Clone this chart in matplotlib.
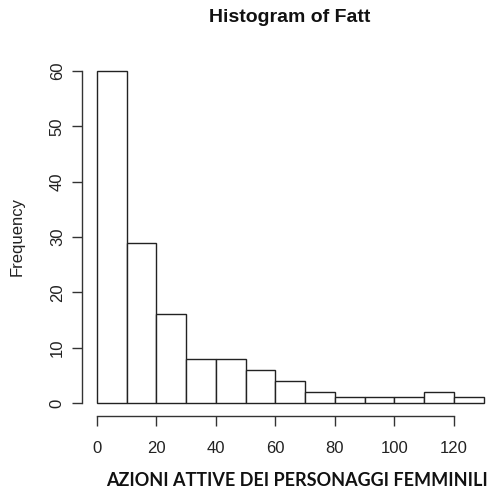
import matplotlib
matplotlib.use("Agg")
from matplotlib import pyplot as plt

# classi di Fatt (larghezza 10) e relative frequenze
bin_edges = [0, 10, 20, 30, 40, 50, 60, 70, 80, 90, 100, 110, 120, 130]
frequenze = [60, 29, 16, 8, 8, 6, 4, 2, 1, 1, 1, 2, 1]
x_ticks = [0, 20, 40, 60, 80, 100, 120]
y_ticks = [0, 10, 20, 30, 40, 50, 60]

plt.rcParams['font.family'] = ['Liberation Sans', 'DejaVu Sans']

W, H = 493, 488
fig = plt.figure(figsize=(W / 100, H / 100), dpi=100)
ax = fig.add_axes([81.5 / W, 71.7 / H, (499.2 - 81.5) / W, (430.3 - 71.7) / H])

lefts = bin_edges[:-1]
widths = [b - a for a, b in zip(bin_edges[:-1], bin_edges[1:])]
ax.bar(lefts, frequenze, width=widths, align='edge',
       facecolor='white', edgecolor='#222222', linewidth=1.0)

ax.set_xlim(-5.2, 135.2)
ax.set_ylim(-2.4, 62.4)

# assi stile R: staccati e limitati ai tick
for s in ['top', 'right']:
    ax.spines[s].set_visible(False)
ax.spines['left'].set_bounds(0, 60)
ax.spines['bottom'].set_bounds(0, 120)
for s in ['left', 'bottom']:
    ax.spines[s].set_color('#333333')
    ax.spines[s].set_linewidth(1.0)

ax.set_xticks(x_ticks)
ax.set_yticks(y_ticks)
ax.tick_params(axis='both', length=7, width=1.0, color='#333333',
               labelsize=12, labelcolor='#222222')
ax.tick_params(axis='x', pad=11)
ax.tick_params(axis='y', pad=5)
for lab in ax.get_yticklabels():
    lab.set_rotation(90)
    lab.set_va('center')

fig.text(290 / W, 1 - 17 / H, 'Histogram of Fatt', ha='center', va='center',
         fontsize=14, fontweight='bold', color='#111111')
fig.text(17 / W, 1 - 237 / H, 'Frequency', ha='center', va='center',
         rotation=90, fontsize=12, color='#222222')
fig.text(106 / W, 1 - 481 / H, 'AZIONI ATTIVE DEI PERSONAGGI FEMMINILI',
         ha='left', va='center', fontsize=13, fontweight='bold',
         family=['Lato', 'DejaVu Sans'], color='#111111')

fig.savefig('out.png', dpi=100)
